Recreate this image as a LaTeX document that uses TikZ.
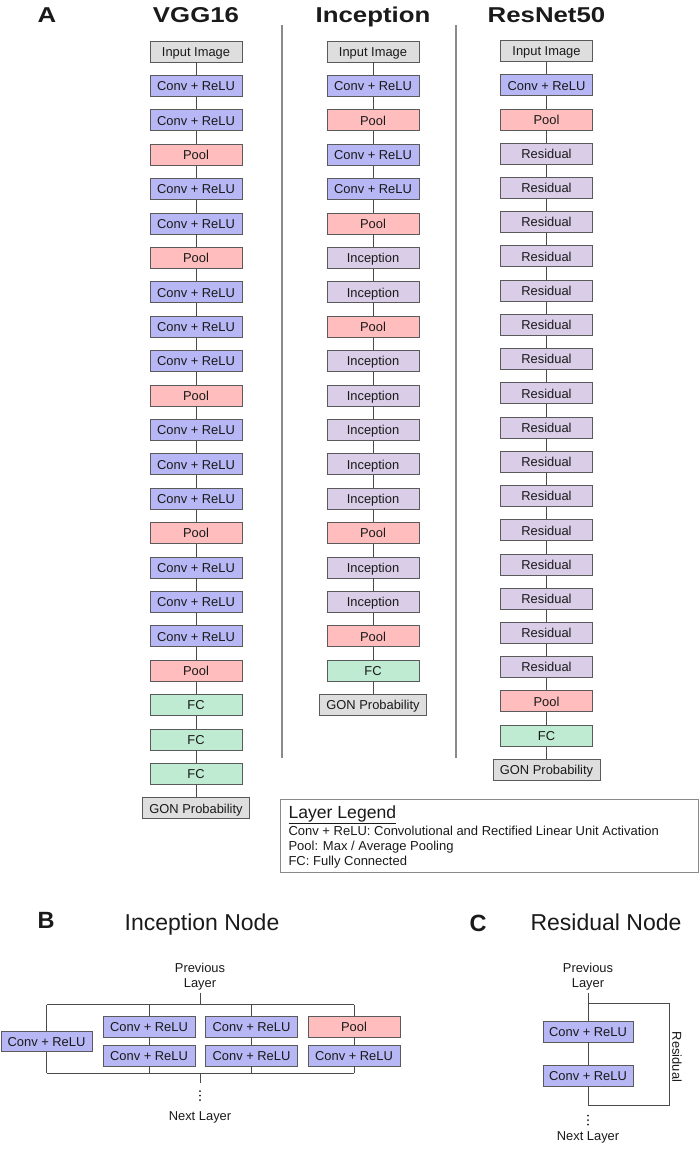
\documentclass[tikz,border=0pt]{standalone}
\usepackage{fontspec}
\setmainfont{Liberation Sans}
\definecolor{imgc}{HTML}{DEDEDE}
\definecolor{convc}{HTML}{B7B7F5}
\definecolor{poolc}{HTML}{FFBDBD}
\definecolor{incc}{HTML}{D9CDE8}
\definecolor{fcc}{HTML}{BFEBD2}
\definecolor{bord}{HTML}{5A5A5A}
\definecolor{lin}{HTML}{4A4A4A}
\definecolor{sepc}{HTML}{8A8A8A}
\definecolor{txt}{HTML}{1A1A1A}
\newcommand{\widetxt}[1]{\scalebox{1.2}[1]{#1}}
\begin{document}
\begin{tikzpicture}[x=1pt,y=-1pt,
  every node/.style={font=\fontsize{12.9}{15}\selectfont, text=txt},
  layer/.style={draw=bord, line width=0.8pt, minimum width=92pt, minimum height=21pt, inner sep=0pt, text height=9.6pt, text depth=0pt},
  imgbox/.style={layer, fill=imgc, node contents={Input Image}},
  convbox/.style={layer, fill=convc, node contents={Conv + ReLU}},
  poolbox/.style={layer, fill=poolc, node contents={Pool}},
  incbox/.style={layer, fill=incc, node contents={Inception}},
  resbox/.style={layer, fill=incc, node contents={Residual}},
  fcbox/.style={layer, fill=fcc, node contents={FC}},
  gonbox/.style={layer, fill=imgc, minimum width=107pt, node contents={GON Probability}},
  conn/.style={draw=lin, line width=0.8pt},
  sepline/.style={draw=sepc, line width=1.3pt},
  title/.style={font=\fontsize{21.5}{25}\selectfont\bfseries, anchor=base},
  panel/.style={font=\fontsize{23.5}{27}\selectfont\bfseries, anchor=base},
  subtitle/.style={font=\fontsize{23}{27}\selectfont, anchor=base},
  plain/.style={anchor=base},
  dot/.style={fill=txt},
]
\useasboundingbox (0,0) rectangle (700,1149);

% ---------- Panel A titles ----------
\node[title] (labA) at (47,22) {\widetxt{A}};
\node[title] (tV) at (196,22) {\widetxt{VGG16}};
\node[title] (tI) at (373,22) {\widetxt{Inception}};
\node[title] (tR) at (546.5,22) {\widetxt{ResNet50}};

% separators
\coordinate (s1a) at (282,25); \coordinate (s1b) at (282,758);
\coordinate (s2a) at (456,25); \coordinate (s2b) at (456,758);
\draw[sepline] (s1a) -- (s1b);
\draw[sepline] (s2a) -- (s2b);

% ---------- VGG16 ----------
\foreach \s [count=\k from 0] in {imgbox,convbox,convbox,poolbox,convbox,convbox,poolbox,convbox,convbox,convbox,poolbox,convbox,convbox,convbox,poolbox,convbox,convbox,convbox,poolbox,fcbox,fcbox,fcbox,gonbox}
  {\node (v\k) at (196,{51.5+34.4*\k}) [\s];}
\foreach \k [remember=\k as \p (initially 0)] in {1,...,22}
  {\draw[conn] (v\p) -- (v\k);}

% ---------- Inception ----------
\foreach \s [count=\k from 0] in {imgbox,convbox,poolbox,convbox,convbox,poolbox,incbox,incbox,poolbox,incbox,incbox,incbox,incbox,incbox,poolbox,incbox,incbox,poolbox,fcbox,gonbox}
  {\node (i\k) at (373,{51.5+34.4*\k}) [\s];}
\foreach \k [remember=\k as \p (initially 0)] in {1,...,19}
  {\draw[conn] (i\p) -- (i\k);}

% ---------- ResNet50 ----------
\foreach \s [count=\k from 0] in {imgbox,convbox,poolbox,resbox,resbox,resbox,resbox,resbox,resbox,resbox,resbox,resbox,resbox,resbox,resbox,resbox,resbox,resbox,resbox,poolbox,fcbox,gonbox}
  {\node (r\k) at (546.5,{51*1+34.23*\k}) [\s];}
\foreach \k [remember=\k as \p (initially 0)] in {1,...,21}
  {\draw[conn] (r\p) -- (r\k);}

% ---------- Legend ----------
\node[draw=sepc, line width=1pt, minimum width=418pt, minimum height=73pt, inner sep=0pt, anchor=north west] (leg) at (280,799) {};
\node[anchor=base west, font=\fontsize{17.6}{20}\selectfont] (legT) at (285,818) {\underline{Layer Legend}};
\node[anchor=base west, font=\fontsize{13}{15}\selectfont] (leg1) at (285,835) {Conv + ReLU: Convolutional and Rectified Linear Unit Activation};
\node[anchor=base west, font=\fontsize{13}{15}\selectfont] (leg2) at (285,850) {Pool: Max / Average Pooling};
\node[anchor=base west, font=\fontsize{13}{15}\selectfont] (leg3) at (285,865) {FC: Fully Connected};

% ---------- Panel B ----------
\node[panel] (labB) at (46,928) {B};
\node[subtitle] (ttlB) at (202,930) {Inception Node};
\node[plain] (pB1) at (200,972) {Previous};
\node[plain] (pB2) at (200,987) {Layer};

\node (bL) at (46.5,1041.5) [convbox, minimum width=91pt, minimum height=20pt];
\node (b11) at (149,1026.5) [convbox];
\node (b12) at (149,1055.5) [convbox];
\node (b21) at (251.5,1026.5) [convbox];
\node (b22) at (251.5,1055.5) [convbox];
\node (b31) at (354,1026.5) [poolbox];
\node (b32) at (354,1055.5) [convbox];

\coordinate (tL) at (46.5,1004.5);
\coordinate (tRr) at (354,1004.5);
\coordinate (uL) at (46.5,1073);
\coordinate (uR) at (354,1073);
\coordinate (tc) at (200,993);
\coordinate (uc) at (200,1073);
\coordinate (uc2) at (200,1083);

\draw[conn] (tL) -- (tRr);
\draw[conn] (uL) -- (uR);
\draw[conn] (tc) -- (tc |- tL);
\draw[conn] (tL) -- (bL.north);
\draw[conn] (bL.south) -- (uL);
\draw[conn] (b11.north |- tL) -- (b11.north);
\draw[conn] (b11) -- (b12);
\draw[conn] (b12.south) -- (b12.south |- uL);
\draw[conn] (b21.north |- tL) -- (b21.north);
\draw[conn] (b21) -- (b22);
\draw[conn] (b22.south) -- (b22.south |- uL);
\draw[conn] (b31.north |- tL) -- (b31.north);
\draw[conn] (b31) -- (b32);
\draw[conn] (b32.south) -- (b32.south |- uL);
\draw[conn] (uc) -- (uc2);
\fill[dot] (200,1091) circle[radius=1pt];
\fill[dot] (200,1095.5) circle[radius=1pt];
\fill[dot] (200,1100) circle[radius=1pt];
\node[plain] (nB) at (200,1120) {Next Layer};

% ---------- Panel C ----------
\node[panel] (labC) at (478,931) {C};
\node[subtitle] (ttlC) at (606,930) {Residual Node};
\node[plain] (pC1) at (588,972) {Previous};
\node[plain] (pC2) at (588,987) {Layer};

\node (c1) at (588,1031.5) [convbox, minimum width=90pt];
\node (c2) at (588,1075.5) [convbox, minimum width=90pt];
\coordinate (ct) at (588,993);
\coordinate (cj) at (588,1003);
\coordinate (cb) at (588,1105);
\coordinate (cr1) at (669,1003);
\coordinate (cr2) at (669,1105);
\draw[conn] (ct) -- (c1);
\draw[conn] (c1) -- (c2);
\draw[conn] (c2) -- (cb);
\draw[conn] (cj) -- (cr1) -- (cr2) -- (cb);
\node[rotate=-90] (resL) at (677,1057) {Residual};
\fill[dot] (588,1115.5) circle[radius=1pt];
\fill[dot] (588,1120) circle[radius=1pt];
\fill[dot] (588,1124.5) circle[radius=1pt];
\node[plain] (nC) at (588,1140) {Next Layer};
\end{tikzpicture}
\end{document}
